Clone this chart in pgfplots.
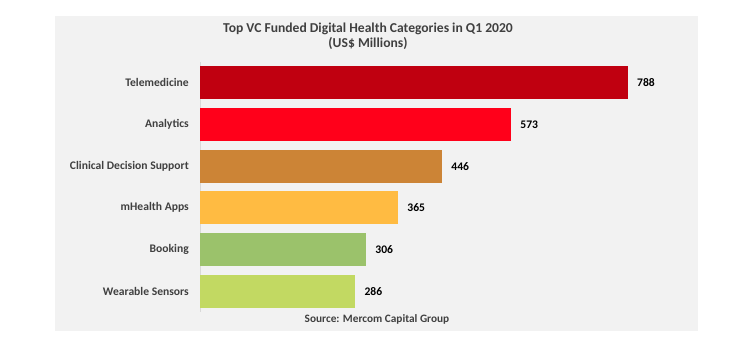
\documentclass[border=0pt]{standalone}
\usepackage{fontspec}
\setmainfont{Carlito}
\usepackage{pgfplots}
\pgfplotsset{compat=1.18}
\definecolor{txt}{HTML}{404040}
\definecolor{panel}{HTML}{F2F2F2}
\definecolor{axgray}{HTML}{D9D9D9}
\definecolor{cA}{HTML}{C00010}
\definecolor{cB}{HTML}{FF001A}
\definecolor{cC}{HTML}{CC8436}
\definecolor{cD}{HTML}{FFBB42}
\definecolor{cE}{HTML}{9BC26B}
\definecolor{cF}{HTML}{C2D962}
\begin{document}
\begin{tikzpicture}[x=1bp,y=1bp]
\fill[white] (0bp,0bp) rectangle (751bp,-353bp);
\fill[panel] (55bp,-16bp) rectangle (698bp,-331bp);
\node[font=\fontsize{13.6bp}{15bp}\selectfont\bfseries, text=txt, align=center] at (368bp,-36bp) {Top VC Funded Digital Health Categories in Q1 2020\\(US\$ Millions)};
\node[font=\fontsize{11.3bp}{13bp}\selectfont\bfseries, text=txt] at (377bp,-319bp) {Source: Mercom Capital Group};
\begin{axis}[
  at={(200bp,-312bp)}, anchor=south west,
  scale only axis, width=461.7bp, height=250bp,
  xmin=0, xmax=850, ymin=-0.5, ymax=5.5, y dir=reverse,
  xbar, bar width=33bp, bar shift=0pt,
  axis x line=none, axis y line*=left,
  y axis line style={draw=axgray, line width=0.8bp, -},
  ytick={0,1,2,3,4,5},
  yticklabels={Telemedicine,Analytics,Clinical Decision Support,mHealth Apps,Booking,Wearable Sensors},
  major tick length=0pt,
  yticklabel style={font=\fontsize{11.6bp}{13bp}\selectfont\bfseries, text=txt, inner sep=0pt, xshift=-11bp},
  /pgf/number format/assume math mode=true,
  point meta=x,
  nodes near coords,
  nodes near coords style={font=\fontsize{11.6bp}{13bp}\selectfont\bfseries, text=black, inner sep=0pt, xshift=9bp, anchor=west},
  clip=false,
]
\addplot[fill=cA, draw=none] coordinates {(788,0)};
\addplot[fill=cB, draw=none] coordinates {(573,1)};
\addplot[fill=cC, draw=none] coordinates {(446,2)};
\addplot[fill=cD, draw=none] coordinates {(365,3)};
\addplot[fill=cE, draw=none] coordinates {(306,4)};
\addplot[fill=cF, draw=none] coordinates {(286,5)};
\end{axis}
\end{tikzpicture}
\end{document}
